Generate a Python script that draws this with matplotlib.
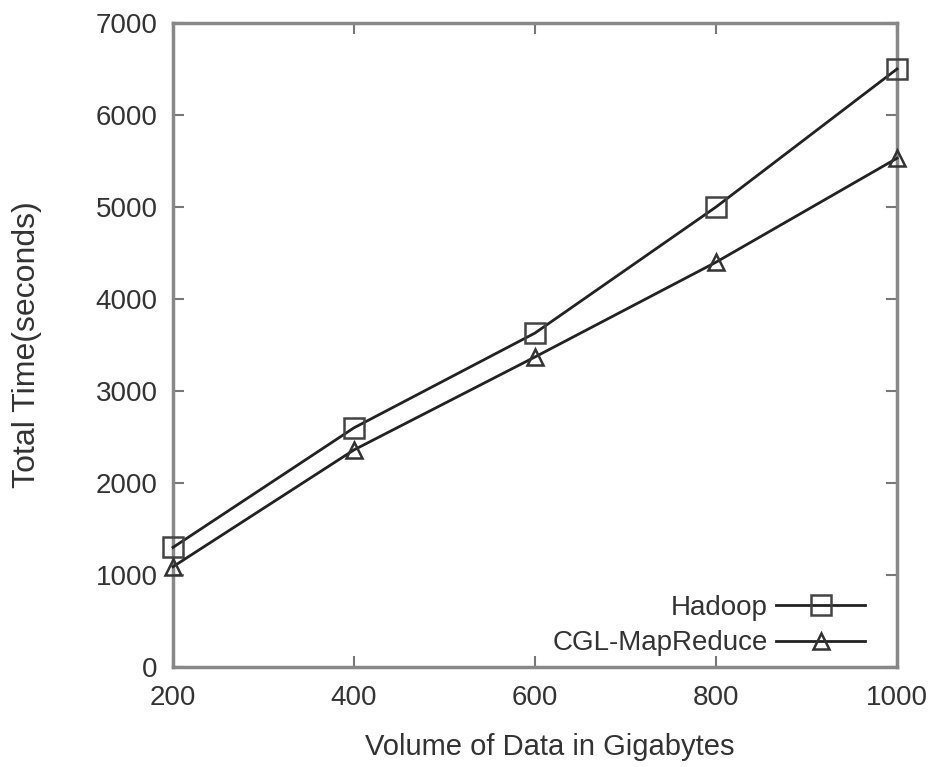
import matplotlib.pyplot as plt

volume = [200, 400, 600, 800, 1000]
hadoop = [1300, 2600, 3630, 5000, 6500]
cgl = [1090, 2360, 3370, 4400, 5530]

plt.rcParams['font.family'] = ['Liberation Sans', 'DejaVu Sans']

fig = plt.figure(figsize=(9.33, 7.67), dpi=100)
ax = fig.add_axes([173 / 933, 1 - 667 / 767, (897 - 173) / 933, (667 - 23) / 767])

ax.plot(volume, hadoop, color='#222222', lw=2, marker='s', ms=14, mfc='none',
        mec='#444444', mew=1.8, label='Hadoop', clip_on=False, zorder=5)
ax.plot(volume, cgl, color='#222222', lw=2, marker='^', ms=12, mfc='none',
        mec='#333333', mew=1.8, label='CGL-MapReduce', clip_on=False, zorder=5)

ax.set_xlim(200, 1000)
ax.set_ylim(0, 7000)
ax.set_xticks(volume)
ax.set_yticks(range(0, 7001, 1000))

for s in ax.spines.values():
    s.set_color('#888888')
    s.set_linewidth(2.5)
ax.tick_params(direction='in', length=8, width=1.5, color='#777777',
               labelsize=20, labelcolor='#333333', top=True, right=True)
ax.tick_params(axis='x', pad=13)
ax.tick_params(axis='y', pad=11)

ax.set_xlabel('Volume of Data in Gigabytes', fontsize=21, color='#333333', labelpad=16)
ax.xaxis.label.set_x(0.521)
ax.set_ylabel('Total Time(seconds)', fontsize=23, color='#333333', labelpad=39)

leg = ax.legend(loc='lower right', bbox_to_anchor=(0.975, -0.005), frameon=False,
                markerfirst=False, fontsize=20, handlelength=3.2, borderaxespad=0.1,
                labelspacing=0.33, handletextpad=0.3)
for t in leg.get_texts():
    t.set_color('#333333')

fig.savefig('out.png', dpi=100)
